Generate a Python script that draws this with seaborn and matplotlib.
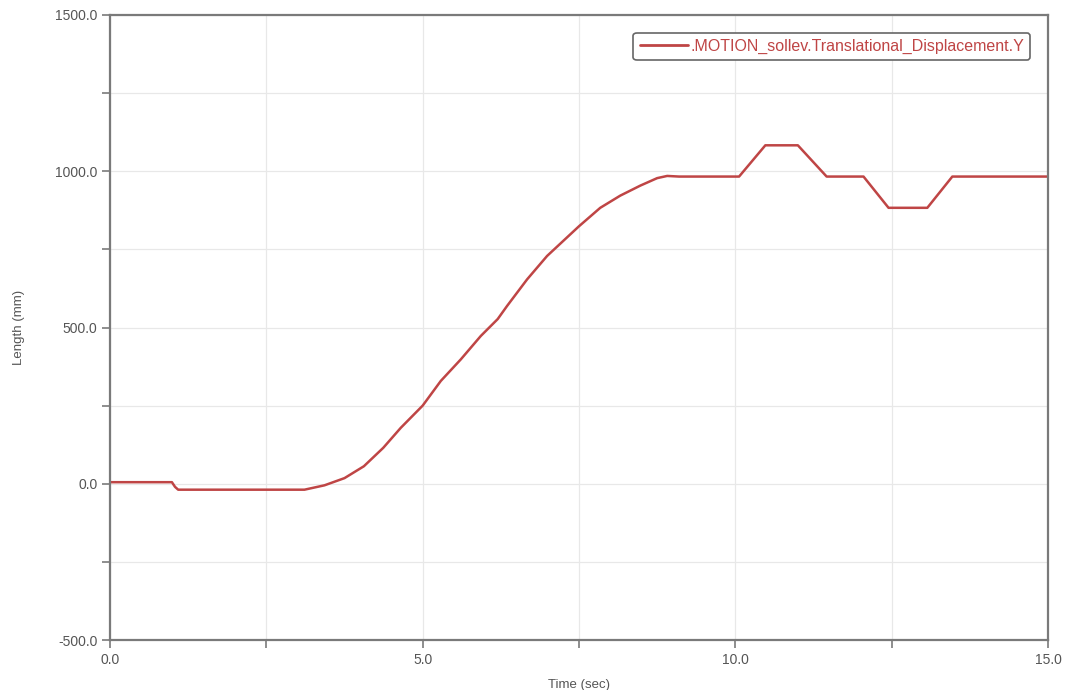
import numpy as np
import pandas as pd
import matplotlib
matplotlib.use("Agg")
import matplotlib.pyplot as plt
import seaborn as sns
from matplotlib.ticker import MultipleLocator, FuncFormatter

# ---- data ----
time_s = [0.0, 0.99, 1.04, 1.09, 3.11, 3.43, 3.75, 4.06, 4.37, 4.65, 5.0, 5.29,
          5.61, 5.93, 6.2, 6.35, 6.67, 6.99, 7.5, 7.84, 8.16, 8.48, 8.75, 8.91,
          9.1, 10.06, 10.48, 11.0, 11.46, 12.05, 12.45, 13.07, 13.47, 15.0]
disp_mm = [5, 5, -10, -19, -19, -5, 18, 56, 115, 179, 250, 329,
           398, 473, 527, 569, 654, 729, 824, 883, 922, 954, 978, 985,
           983, 983, 1083, 1083, 983, 983, 883, 883, 983, 983]
series_name = ".MOTION_sollev.Translational_Displacement.Y"
x_labels = {0.0: "0.0", 5.0: "5.0", 10.0: "10.0", 15.0: "15.0"}
y_labels = {-500.0: "-500.0", 0.0: "0.0", 500.0: "500.0", 1000.0: "1000.0", 1500.0: "1500.0"}
x_title = "Time (sec)"
y_title = "Length (mm)"

line_color = "#bf4545"
text_color = "#555555"
spine_color = "#7a7a7a"

sns.set_theme(style="white")
plt.rcParams['font.family'] = ['Liberation Sans', 'DejaVu Sans']

fig = plt.figure(figsize=(10.66, 6.90), dpi=100)
ax = fig.add_axes([110 / 1066, 1 - 640 / 690, 938 / 1066, 625 / 690])

df = pd.DataFrame({"Time": time_s, "Length": disp_mm, "series": series_name})
sns.lineplot(data=df, x="Time", y="Length", hue="series", palette=[line_color],
             sort=False, estimator=None, linewidth=1.8, ax=ax)

ax.set_xlim(0, 15)
ax.set_ylim(-500, 1500)
ax.xaxis.set_major_locator(MultipleLocator(2.5))
ax.yaxis.set_major_locator(MultipleLocator(250))
ax.xaxis.set_major_formatter(FuncFormatter(lambda v, p: x_labels.get(round(v, 2), "")))
ax.yaxis.set_major_formatter(FuncFormatter(lambda v, p: y_labels.get(round(v, 2), "")))
ax.grid(True, color="#e8e8e8", linewidth=0.9)
ax.set_axisbelow(True)
ax.tick_params(axis="both", which="major", direction="out", length=6, width=1.2,
               color=spine_color, labelsize=10, labelcolor=text_color, pad=3,
               bottom=True, left=True)
for s in ax.spines.values():
    s.set_color(spine_color)
    s.set_linewidth(1.6)

ax.set_xlabel(x_title, fontsize=9.5, color=text_color, labelpad=9)
ax.set_ylabel(y_title, fontsize=9.5, color=text_color, labelpad=22)

leg = ax.legend(loc="upper right", fontsize=11.5, frameon=True, fancybox=True,
                handlelength=3.0, handletextpad=0.15, borderaxespad=1.1,
                borderpad=0.4, edgecolor="#666666", framealpha=1.0)
leg.get_frame().set_linewidth(1.2)
for t in leg.get_texts():
    t.set_color(line_color)
for h in leg.get_lines():
    h.set_linewidth(2.0)

fig.savefig("out.png", dpi=100, facecolor="white")
